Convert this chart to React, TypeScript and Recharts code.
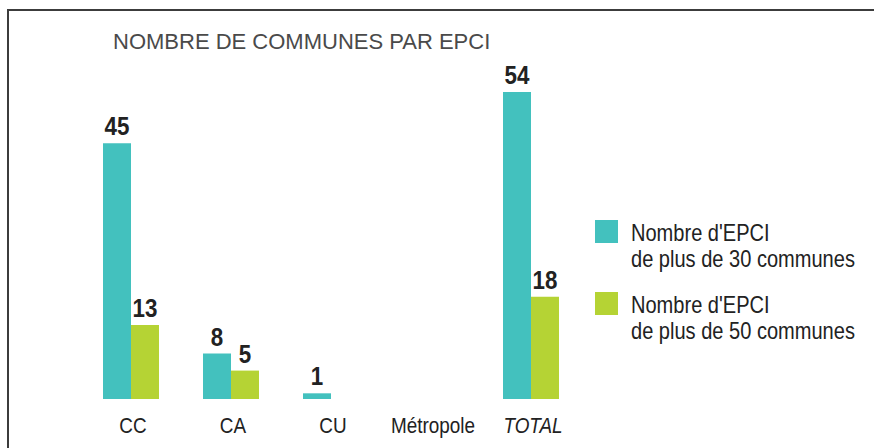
import React from 'react';
import { BarChart, Bar, XAxis, YAxis, LabelList } from 'recharts';

const categories = ['CC', 'CA', 'CU', 'Métropole', 'TOTAL'];
const plus30 = [45, 8, 1, 0, 54];
const plus50 = [13, 5, 0, 0, 18];
const seriesNames = [
  ["Nombre d'EPCI", 'de plus de 30 communes'],
  ["Nombre d'EPCI", 'de plus de 50 communes'],
];
const title = 'NOMBRE DE COMMUNES PAR EPCI';

const TEAL = '#43C1BE';
const GREEN = '#B5D334';
const SANS = '"Liberation Sans", Arial, Helvetica, sans-serif';

const data = categories.map((c, i) => ({ cat: c, a: plus30[i], b: plus50[i] }));

const renderLabel = (props: any) => {
  const { x, y, width, value } = props;
  if (!value) return null;
  const cx = Number(x) + Number(width) / 2;
  const cy = Number(y) - 8;
  return (
    <text transform={`translate(${cx},${cy}) scale(0.86,1)`} x={0} y={0} textAnchor="middle" fontFamily={SANS} fontWeight="bold" fontSize={26} fill="#222">
      {value}
    </text>
  );
};

const Tick = (props: any) => {
  const { x, y, payload } = props;
  const italic = payload.value === 'TOTAL';
  return (
    <text transform={`translate(${x + 2},${y + 26}) scale(0.86,1)`} x={0} y={0} textAnchor="middle" fontFamily={SANS} fontSize={22} fill="#222" fontStyle={italic ? 'italic' : 'normal'}>
      {payload.value}
    </text>
  );
};

const LegendBox = () => (
  <div style={{ position: 'absolute', left: 595, top: 220, fontFamily: SANS, fontSize: 24, color: '#222' }}>
    {seriesNames.map((lines, i) => (
      <div key={i} style={{ position: 'relative', height: 72, width: 270 }}>
        <div style={{ position: 'absolute', left: 0, top: 0, width: 23, height: 23, background: i === 0 ? TEAL : GREEN }} />
        <div style={{ position: 'absolute', left: 36, top: 0, lineHeight: '26px', whiteSpace: 'nowrap', transform: 'scaleX(0.835)', transformOrigin: '0 0' }}>
          {lines.map((l, j) => (
            <div key={j}>{l}</div>
          ))}
        </div>
      </div>
    ))}
  </div>
);

export default function App() {
  return (
    <div style={{ position: 'absolute', left: 0, top: 0, width: 874, height: 448, background: '#fff', overflow: 'hidden' }}>
      <div style={{ position: 'absolute', left: 7, top: 9, width: 870, height: 450, borderTop: '2px solid #3c3c3c', borderLeft: '2px solid #3c3c3c' }} />
      <div style={{ position: 'absolute', left: 113, top: 31, fontFamily: SANS, fontSize: 22, lineHeight: '22px', color: '#4a4a4a', whiteSpace: 'nowrap' }}>
        {title}
      </div>
      <BarChart
        width={874}
        height={448}
        data={data}
        margin={{ top: 58, right: 293, bottom: 9, left: 81 }}
        barCategoryGap={22}
        barGap={0}
        style={{ position: 'absolute', left: 0, top: 0 }}
      >
        <XAxis dataKey="cat" axisLine={false} tickLine={false} height={40} interval={0} tick={<Tick />} />
        <YAxis hide domain={[0, 60]} />
        <Bar dataKey="a" fill={TEAL} isAnimationActive={false}>
          <LabelList dataKey="a" content={renderLabel} />
        </Bar>
        <Bar dataKey="b" fill={GREEN} isAnimationActive={false}>
          <LabelList dataKey="b" content={renderLabel} />
        </Bar>
      </BarChart>
      <LegendBox />
    </div>
  );
}
